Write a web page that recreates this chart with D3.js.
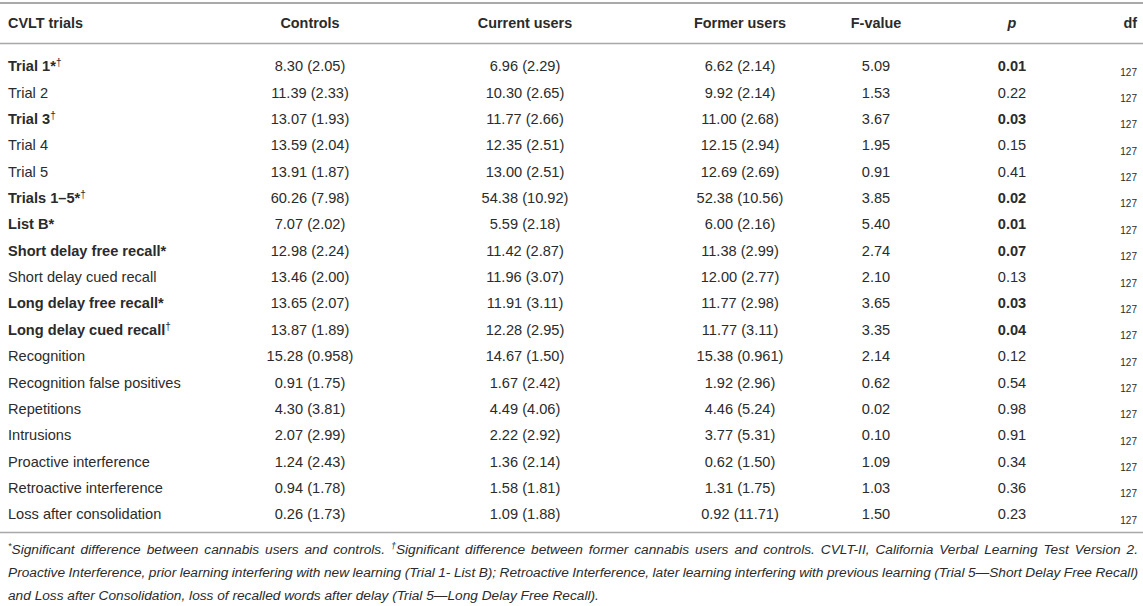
<!DOCTYPE html>
<html><head><meta charset="utf-8">
<script src="https://cdn.jsdelivr.net/npm/d3@7/dist/d3.min.js"></script>
<style>
html,body{margin:0;padding:0;background:#fff;}
svg text{font-family:"Liberation Sans",Arial,Helvetica,sans-serif;fill:#2b2b2b;}
</style></head>
<body><svg id="chart" width="1143" height="606"></svg>
<script>
const headers = ["CVLT trials","Controls","Current users","Former users","F-value","p","df"];
const labels = ["Trial 1","Trial 2","Trial 3","Trial 4","Trial 5","Trials 1–5","List B","Short delay free recall","Short delay cued recall","Long delay free recall","Long delay cued recall","Recognition","Recognition false positives","Repetitions","Intrusions","Proactive interference","Retroactive interference","Loss after consolidation"];
const marks = ["*†","","†","","","*†","*","*","","*","†","","","","","","",""];
const controls = ["8.30 (2.05)","11.39 (2.33)","13.07 (1.93)","13.59 (2.04)","13.91 (1.87)","60.26 (7.98)","7.07 (2.02)","12.98 (2.24)","13.46 (2.00)","13.65 (2.07)","13.87 (1.89)","15.28 (0.958)","0.91 (1.75)","4.30 (3.81)","2.07 (2.99)","1.24 (2.43)","0.94 (1.78)","0.26 (1.73)"];
const current = ["6.96 (2.29)","10.30 (2.65)","11.77 (2.66)","12.35 (2.51)","13.00 (2.51)","54.38 (10.92)","5.59 (2.18)","11.42 (2.87)","11.96 (3.07)","11.91 (3.11)","12.28 (2.95)","14.67 (1.50)","1.67 (2.42)","4.49 (4.06)","2.22 (2.92)","1.36 (2.14)","1.58 (1.81)","1.09 (1.88)"];
const former = ["6.62 (2.14)","9.92 (2.14)","11.00 (2.68)","12.15 (2.94)","12.69 (2.69)","52.38 (10.56)","6.00 (2.16)","11.38 (2.99)","12.00 (2.77)","11.77 (2.98)","11.77 (3.11)","15.38 (0.961)","1.92 (2.96)","4.46 (5.24)","3.77 (5.31)","0.62 (1.50)","1.31 (1.75)","0.92 (11.71)"];
const fvalues = ["5.09","1.53","3.67","1.95","0.91","3.85","5.40","2.74","2.10","3.65","3.35","2.14","0.62","0.02","0.10","1.09","1.03","1.50"];
const pvalues = ["0.01","0.22","0.03","0.15","0.41","0.02","0.01","0.07","0.13","0.03","0.04","0.12","0.54","0.98","0.91","0.34","0.36","0.23"];
const dfs = ["127","127","127","127","127","127","127","127","127","127","127","127","127","127","127","127","127","127"];
const boldRows = [true,false,true,false,false,true,true,true,false,true,true,false,false,false,false,false,false,false];
const footnotes = [
  [["sup","*"],["t","Significant difference between cannabis users and controls. "],["sup","†"],["t","Significant difference between former cannabis users and controls. CVLT-II, California Verbal Learning Test Version 2."]],
  [["t","Proactive Interference, prior learning interfering with new learning (Trial 1- List B); Retroactive Interference, later learning interfering with previous learning (Trial 5—Short Delay Free Recall)"]],
  [["t","and Loss after Consolidation, loss of recalled words after delay (Trial 5—Long Delay Free Recall)."]]
];
const justifyLine = [true, true, false];

const W = 1143, H = 606;
const svg = d3.select("#chart");
const rows = d3.range(labels.length);
const y = d3.scaleBand().domain(rows).range([53, 527.5]);
const colKeys = ["controls","current","former","f","p"];
const x = d3.scaleOrdinal().domain(colKeys).range([310, 525, 740, 876, 1012]);
const colData = {controls, current, former, f: fvalues, p: pvalues};
const bodySize = 14.6;

// rules
const lineColor = "#a9a9a9";
svg.append("line").attr("x1",0).attr("x2",W).attr("y1",3).attr("y2",3).attr("stroke",lineColor).attr("stroke-width",2);
svg.append("line").attr("x1",0).attr("x2",W).attr("y1",43.5).attr("y2",43.5).attr("stroke",lineColor).attr("stroke-width",1.5);
svg.append("line").attr("x1",0).attr("x2",W).attr("y1",532.5).attr("y2",532.5).attr("stroke",lineColor).attr("stroke-width",1.5);

// headers
const hy = 27.5;
svg.append("text").attr("x",8).attr("y",hy).attr("font-size",14.4).attr("font-weight","bold").text(headers[0]);
colKeys.forEach((k,i)=>{
  const t = svg.append("text").attr("x",x(k)).attr("y",hy).attr("text-anchor","middle").attr("font-size",14.4).attr("font-weight","bold").text(headers[i+1]);
  if(k==="p") t.attr("font-style","italic");
});
svg.append("text").attr("x",1137).attr("y",hy).attr("text-anchor","end").attr("font-size",14.4).attr("font-weight","bold").text(headers[6]);

// body
const rowG = svg.append("g").selectAll("g.row").data(rows).join("g").attr("class","row")
  .attr("transform", d=>`translate(0,${y(d)+y.bandwidth()/2+5})`);
rowG.each(function(d){
  const r = d3.select(this);
  const lt = r.append("text").attr("x",8).attr("y",0).attr("font-size",bodySize).attr("font-weight", boldRows[d]?"bold":"normal");
  lt.append("tspan").text(labels[d]);
  for(const ch of marks[d]){
    if(ch==="*") lt.append("tspan").text("*");
    else lt.append("tspan").attr("font-size",10).attr("y",-5).attr("font-weight","normal").text(ch);
  }
  colKeys.forEach(k=>{
    r.append("text").attr("x",x(k)).attr("y",0).attr("text-anchor","middle").attr("font-size",bodySize)
      .attr("font-weight", (k==="p" && boldRows[d])?"bold":"normal").text(colData[k][d]);
  });
  r.append("text").attr("x",1137).attr("y",4.5).attr("text-anchor","end").attr("font-size",10).text(dfs[d]);
});

// footnotes
const fy = [554, 577, 600];
const rightEdge = 1138;
footnotes.forEach((parts,i)=>{
  const t = svg.append("text").attr("x",8).attr("y",fy[i]).attr("font-size",13.7).attr("font-style","italic");
  parts.forEach(([kind,s])=>{
    if(kind==="sup") t.append("tspan").attr("font-size",9).attr("y",fy[i]-5).text(s);
    else t.append("tspan").attr("y",fy[i]).text(s);
  });
  if(justifyLine[i]){
    const len = t.node().getComputedTextLength();
    const spaces = parts.map(p=>p[1]).join("").trim().split(" ").length - 1;
    const extra = (rightEdge - 8 - len) / spaces;
    t.attr("word-spacing", extra);
  }
});
</script></body></html>
